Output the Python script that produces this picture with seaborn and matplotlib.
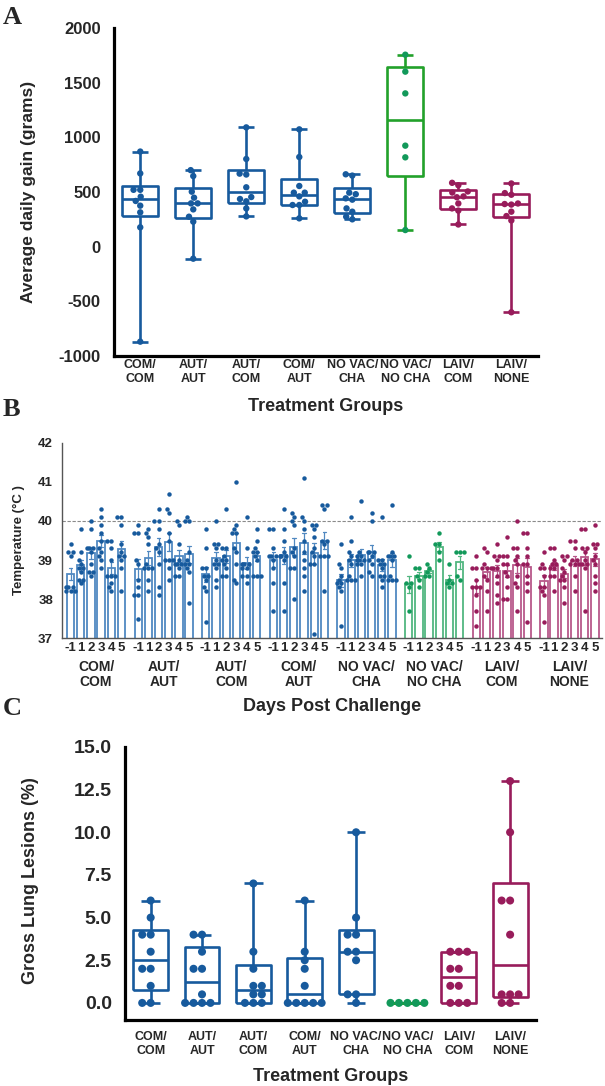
import warnings
import numpy as np
import pandas as pd
import seaborn as sns
import matplotlib.pyplot as plt

warnings.filterwarnings('ignore')

# ---- data ----
groups = ["COM/\nCOM", "AUT/\nAUT", "AUT/\nCOM", "COM/\nAUT",
          "NO VAC/\nCHA", "NO VAC/\nNO CHA", "LAIV/\nCOM", "LAIV/\nNONE"]
days = ["-1", "1", "2", "3", "4", "5"]

# A: average daily gain (grams)
adg_com_com = [870, 670, 520, 520, 457, 418, 375, 314, 177, -869]
adg_aut_aut = [700, 646, 503, 448, 396, 396, 341, 274, 229, -110]
adg_aut_com = [1091, 802, 668, 660, 543, 454, 436, 415, 350, 277]
adg_com_aut = [1073, 820, 555, 494, 494, 460, 411, 381, 381, 259]
adg_novac_cha = [662, 650, 494, 480, 442, 430, 350, 320, 274, 250]
adg_novac_nocha = [1756, 1601, 1402, 924, 817, 152]
adg_laiv_com = [584, 562, 505, 495, 460, 452, 395, 350, 330, 203]
adg_laiv_none = [578, 490, 475, 395, 390, 385, 320, 280, 240, -600]

# B: rectal temperature per day post challenge
temp_com_com = [
    [39.4, 39.2, 39.2, 39.1, 38.3, 38.3, 38.2, 38.2, 38.2, 38.3],
    [39.8, 39.2, 39.0, 38.9, 38.8, 38.8, 38.7, 38.5, 38.5, 38.4],
    [40.0, 39.8, 39.3, 39.3, 39.3, 39.2, 38.9, 38.7, 38.6, 38.7],
    [40.3, 40.1, 39.9, 39.7, 39.5, 39.3, 39.2, 39.1, 39.0, 38.8],
    [39.5, 39.5, 39.3, 39.0, 38.6, 38.6, 38.4, 38.3, 38.2, 38.6],
    [40.1, 40.1, 39.9, 39.4, 39.2, 39.1, 39.1, 39.0, 38.8, 38.2]]
temp_aut_aut = [
    [39.9, 39.7, 39.7, 39.0, 38.9, 38.5, 38.3, 38.1, 38.1, 37.5],
    [39.8, 39.7, 39.6, 39.4, 38.9, 38.8, 38.8, 38.8, 38.5, 38.2],
    [40.3, 40.0, 40.0, 39.8, 39.4, 39.3, 39.2, 38.9, 38.3, 38.1],
    [40.7, 40.3, 40.2, 39.7, 39.5, 39.0, 39.0, 39.0, 38.8, 38.5],
    [40.0, 39.9, 39.4, 39.0, 38.9, 38.9, 38.9, 38.8, 38.6, 38.6],
    [40.1, 40.0, 40.0, 39.2, 39.0, 38.9, 38.9, 38.8, 38.7, 37.9]]
temp_aut_com = [
    [39.8, 39.3, 38.8, 38.8, 38.6, 38.6, 38.5, 38.3, 38.2, 37.4],
    [40.0, 39.4, 39.4, 39.3, 39.0, 38.9, 38.9, 38.8, 38.5, 38.3],
    [40.3, 39.3, 39.3, 39.1, 39.0, 39.0, 38.9, 38.8, 38.6, 38.6],
    [41.0, 39.9, 39.8, 39.7, 39.7, 39.3, 39.2, 38.9, 38.5, 38.4],
    [40.1, 39.3, 38.9, 38.9, 38.9, 38.8, 38.8, 38.6, 38.6, 38.4],
    [39.8, 39.5, 39.3, 39.2, 39.2, 39.1, 39.0, 38.6, 38.6, 38.6]]
temp_com_aut = [
    [39.8, 39.8, 39.3, 39.1, 39.1, 39.1, 39.0, 38.8, 38.4, 37.7],
    [40.3, 39.8, 39.5, 39.2, 39.1, 39.1, 39.1, 39.0, 38.4, 37.7],
    [40.2, 40.1, 40.0, 39.9, 39.3, 39.2, 39.1, 38.8, 38.8, 38.0],
    [41.1, 40.1, 40.0, 39.8, 39.5, 39.2, 39.0, 38.8, 38.6, 38.2],
    [39.9, 39.9, 39.8, 39.6, 39.3, 39.2, 39.1, 38.9, 38.9, 37.1],
    [40.4, 40.4, 40.3, 39.5, 39.5, 39.4, 39.1, 39.1, 39.1, 38.2]]
temp_novac_cha = [
    [39.4, 38.9, 38.8, 38.6, 38.5, 38.4, 38.4, 38.3, 38.2, 37.3],
    [40.1, 39.5, 39.2, 39.1, 39.0, 38.9, 38.6, 38.5, 38.5, 38.5],
    [40.5, 39.0, 39.2, 39.1, 39.1, 39.0, 39.0, 38.9, 38.9, 38.6],
    [40.2, 40.0, 39.2, 39.2, 39.2, 39.1, 39.0, 38.9, 38.6, 38.7],
    [40.1, 39.0, 39.0, 38.9, 38.9, 38.8, 38.6, 38.6, 38.5, 38.3],
    [40.4, 39.2, 39.1, 39.1, 39.1, 39.0, 38.6, 38.5, 38.5, 38.5]]
temp_novac_nocha = [
    [39.1, 38.4, 38.4, 38.3, 37.7],
    [38.8, 38.8, 38.6, 38.5, 38.3],
    [38.9, 38.8, 38.7, 38.6, 38.6],
    [39.7, 39.4, 39.4, 39.2, 39.0],
    [38.9, 38.5, 38.4, 38.4, 38.3],
    [39.2, 39.2, 39.2, 38.6, 38.5]]
temp_laiv_com = [
    [39.1, 38.8, 38.8, 38.5, 38.3, 38.3, 38.3, 38.1, 37.7, 37.3],
    [39.3, 39.2, 38.9, 38.8, 38.8, 38.8, 38.6, 38.5, 38.2, 37.7],
    [39.4, 39.1, 39.1, 39.0, 38.8, 38.8, 38.6, 38.4, 38.1, 37.9],
    [39.6, 39.1, 39.1, 38.9, 38.9, 38.7, 38.6, 38.3, 38.0, 38.0],
    [40.0, 39.3, 39.3, 39.1, 39.0, 38.9, 38.6, 38.4, 38.3, 37.7],
    [39.7, 39.7, 39.3, 39.1, 38.9, 38.9, 38.6, 38.4, 38.2, 37.4]]
temp_laiv_none = [
    [39.2, 38.9, 38.8, 38.8, 38.6, 38.3, 38.3, 38.2, 38.1, 37.4],
    [39.3, 39.3, 39.0, 38.9, 38.9, 38.8, 38.8, 38.6, 38.6, 38.2],
    [39.1, 39.1, 39.0, 38.8, 38.7, 38.6, 38.5, 38.5, 38.3, 37.9],
    [39.5, 39.5, 39.3, 39.0, 39.0, 38.9, 38.9, 38.9, 38.6, 38.2],
    [39.8, 39.8, 39.3, 39.3, 39.2, 39.0, 38.9, 38.9, 38.8, 37.7],
    [39.9, 39.4, 39.4, 39.3, 39.1, 39.0, 38.9, 38.6, 38.4, 38.2]]

# C: gross lung lesions (%)
les_com_com = [6, 5, 4, 4, 3, 2, 2, 1, 0, 0]
les_aut_aut = [4, 4, 3, 2, 2, 0.5, 0, 0, 0, 0]
les_aut_com = [7, 3, 2, 1, 1, 0.5, 0.5, 0, 0, 0]
les_com_aut = [6, 3, 2.5, 2, 1, 0, 0, 0, 0, 0]
les_novac_cha = [10, 5, 4, 4, 3, 3, 2.5, 0.5, 0.5, 0]
les_novac_nocha = [0, 0, 0, 0, 0]
les_laiv_com = [3, 3, 3, 2, 2, 1, 1, 0, 0, 0]
les_laiv_none = [13, 10, 6, 6, 4, 0.5, 0.5, 0.5, 0, 0]

adg = [adg_com_com, adg_aut_aut, adg_aut_com, adg_com_aut,
       adg_novac_cha, adg_novac_nocha, adg_laiv_com, adg_laiv_none]
temps = [temp_com_com, temp_aut_aut, temp_aut_com, temp_com_aut,
         temp_novac_cha, temp_novac_nocha, temp_laiv_com, temp_laiv_none]
lesions = [les_com_com, les_aut_aut, les_aut_com, les_com_aut,
           les_novac_cha, les_novac_nocha, les_laiv_com, les_laiv_none]

# ---- colours ----
blue, green_box, green_dot, pink = "#175a9d", "#22a12a", "#12995a", "#981c5b"
box_colors = [blue] * 5 + [green_box, pink, pink]
dot_colors = [blue] * 5 + [green_dot, pink, pink]
bar_edge = ["#5189c1"] * 5 + ["#52b680", "#b8588a", "#b8588a"]

sns.set_style('white')
plt.rcParams['font.family'] = ['Liberation Sans', 'DejaVu Sans']
plt.rcParams['font.weight'] = 'bold'
plt.rcParams['axes.labelweight'] = 'bold'
plt.rcParams['axes.unicode_minus'] = False

fig = plt.figure(figsize=(6.05, 10.86), dpi=100)
axA = fig.add_axes([0.188, 0.6722, 0.701, 0.302])
axB = fig.add_axes([0.1025, 0.4125, 0.8926, 0.1796])
axC = fig.add_axes([0.2066, 0.0608, 0.679, 0.2514])


def box_panel(ax, values, dot_size, lw, capw):
    rows = [(g, v) for g, vals in zip(groups, values) for v in vals]
    df = pd.DataFrame(rows, columns=['group', 'value'])
    sns.swarmplot(data=df, x='group', y='value', hue='group', order=groups,
                  hue_order=groups, palette=dict(zip(groups, dot_colors)),
                  size=dot_size, legend=False, ax=ax, zorder=3)
    for i, (vals, c) in enumerate(zip(values, box_colors)):
        q1, med, q3 = np.percentile(vals, [25, 50, 75], method='weibull')
        st = dict(med=med, q1=q1, q3=q3, whislo=min(vals), whishi=max(vals), fliers=[])
        line = dict(color=c, linewidth=lw, solid_capstyle='butt')
        ax.bxp([st], positions=[i], widths=0.68, showfliers=False,
               manage_ticks=False, capwidths=[capw],
               boxprops=line, whiskerprops=line, capprops=line, medianprops=line)
    ax.set_xlim(-0.5, 7.5)
    ax.set_xticks(range(len(groups)))
    ax.set_xticklabels(groups)
    sns.despine(ax=ax)
    for s in ['left', 'bottom']:
        ax.spines[s].set_linewidth(2.3)
        ax.spines[s].set_color('black')
    ax.tick_params(axis='x', length=0, labelsize=9)
    ax.tick_params(axis='y', direction='out', length=6, width=2)
    ax.set_xlabel('Treatment Groups', fontsize=13)


# ---- A ----
box_panel(axA, adg, 4.6, 1.9, 0.3)
axA.set_ylim(-1000, 2000)
axA.set_yticks(range(-1000, 2001, 500))
axA.tick_params(axis='y', labelsize=12)
axA.tick_params(axis='x', pad=2)
axA.set_ylabel('Average daily gain (grams)', fontsize=12.5)
axA.yaxis.set_label_coords(-0.184, 0.5)
axA.xaxis.set_label_coords(0.5, -0.128)

# ---- B ----
stride = 6.64
for g, (gtemps, ec, dc) in enumerate(zip(temps, bar_edge, dot_colors)):
    rows = [(g * stride + d, v) for d, vals in enumerate(gtemps) for v in vals]
    df = pd.DataFrame(rows, columns=['pos', 'temp'])
    sns.barplot(data=df, x='pos', y='temp', native_scale=True, errorbar='se',
                fill=False, color=ec, linewidth=1.3, width=0.72, capsize=0.35,
                err_kws={'color': ec, 'linewidth': 0.9}, ax=axB)
    sns.swarmplot(data=df, x='pos', y='temp', native_scale=True, color=dc,
                  size=3.2, ax=axB, zorder=3)
    axB.annotate(groups[g], xy=(g * stride + 2.5, 0), xycoords=('data', 'axes fraction'),
                 xytext=(0, -16), textcoords='offset points', ha='center', va='top',
                 fontsize=10, linespacing=1.05)
axB.axhline(40, color='#8a8a8a', lw=0.8, ls=(0, (3, 1.5)), zorder=0)
axB.set_xlim(-0.84, 7 * stride + 5.7)
axB.set_ylim(37, 42)
axB.set_yticks(range(37, 43))
axB.set_xticks([g * stride + d for g in range(8) for d in range(6)])
axB.set_xticklabels(days * 8)
sns.despine(ax=axB)
for s in ['left', 'bottom']:
    axB.spines[s].set_linewidth(1.0)
    axB.spines[s].set_color('#555555')
axB.tick_params(axis='x', length=0, pad=3, labelsize=9.5)
axB.tick_params(axis='y', length=3, width=1, color='#555555', labelsize=9.5)
axB.set_ylabel('Temperature (°C )', fontsize=9.5)
axB.yaxis.set_label_coords(-0.0685, 0.5)
axB.set_xlabel('Days Post Challenge', fontsize=13)
axB.xaxis.set_label_coords(0.5, -0.31)

# ---- C ----
box_panel(axC, lesions, 5.8, 1.9, 0.36)
axC.set_ylim(-1, 15)
axC.set_yticks(np.arange(0, 15.1, 2.5))
axC.set_yticklabels([f'{v:.1f}' for v in np.arange(0, 15.1, 2.5)])
axC.tick_params(axis='y', labelsize=14)
axC.tick_params(axis='x', pad=8)
axC.set_ylabel('Gross Lung Lesions (%)', fontsize=13)
axC.yaxis.set_label_coords(-0.209, 0.51)
axC.xaxis.set_label_coords(0.5, -0.175)

# panel letters
for letter, ypx in [('A', 6), ('B', 398), ('C', 697)]:
    fig.text(0.004, 1 - ypx / 1086, letter, family='Liberation Serif',
             fontsize=19, weight='bold', va='top')

fig.savefig('out.png', dpi=100)
